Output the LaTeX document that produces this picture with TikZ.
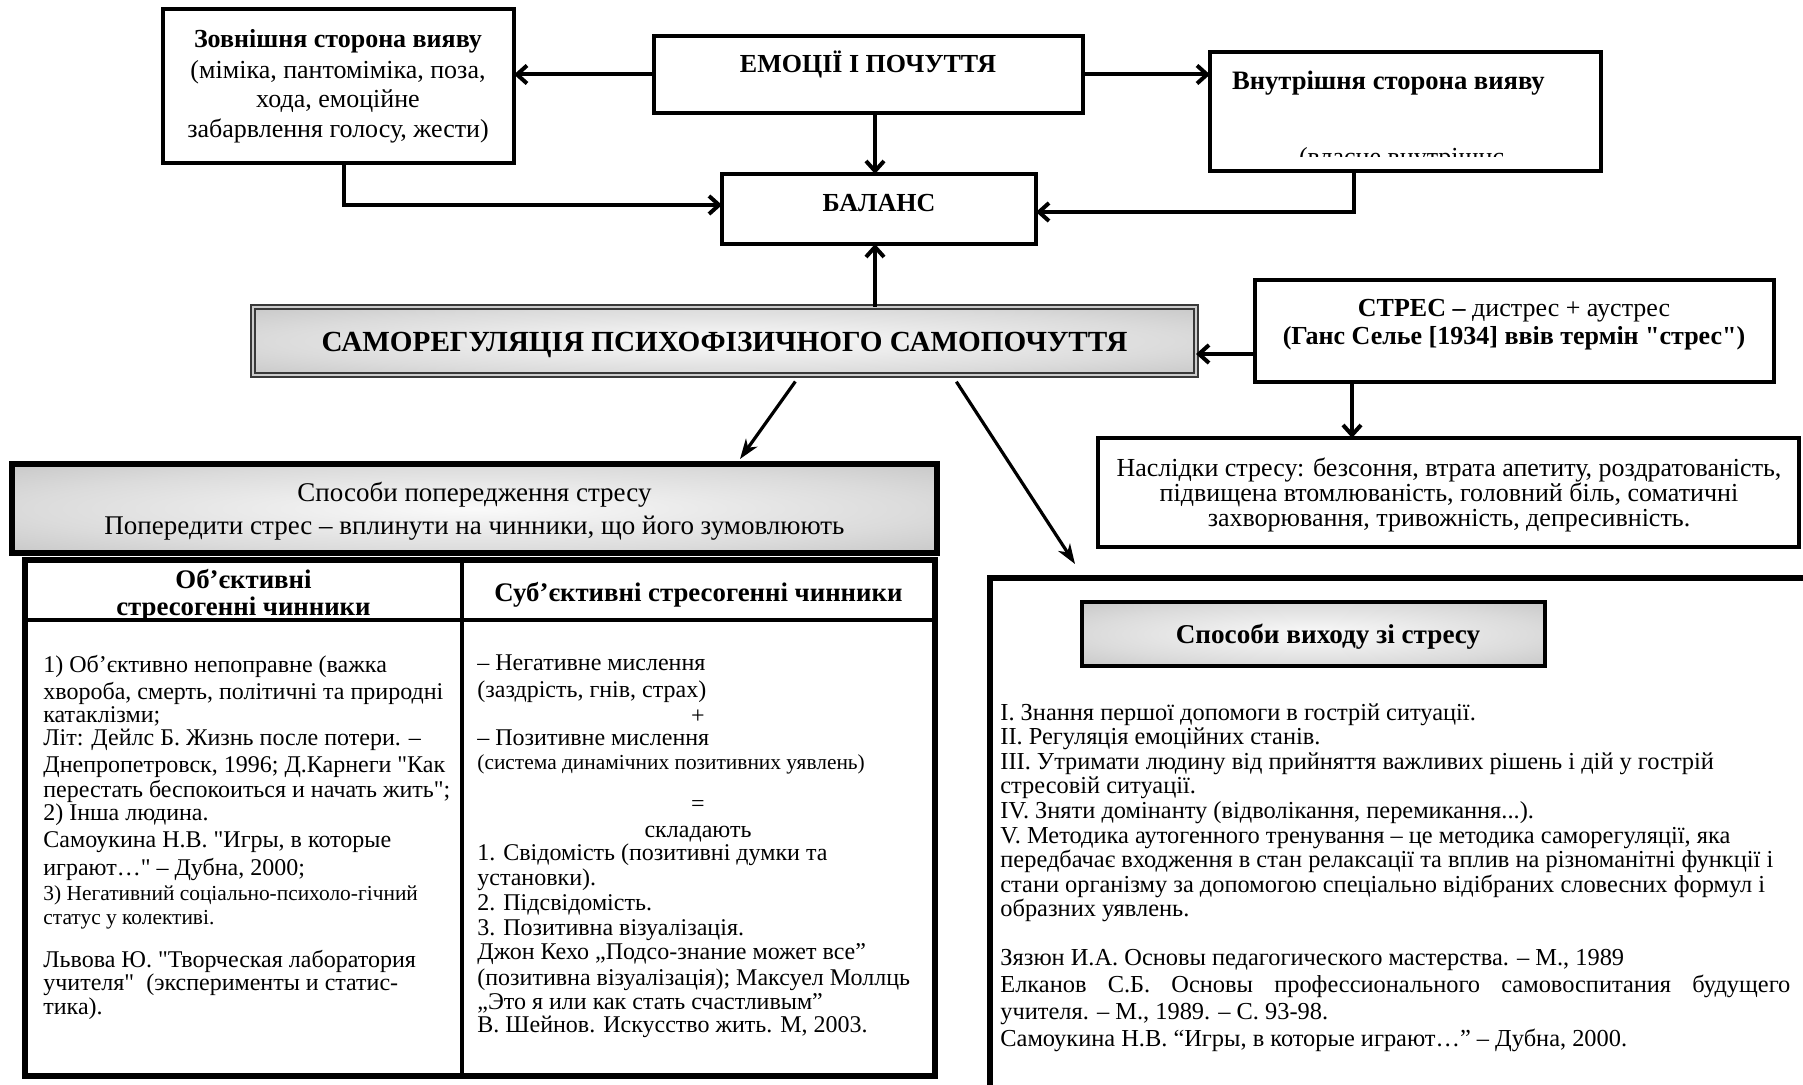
\documentclass[tikz,border=0pt]{standalone}
\usepackage{fontspec}
\setmainfont{Liberation Serif}
\newfontfamily\qf{Liberation Serif}
\newcommand\sq{{\qf\symbol{34}}}
\usetikzlibrary{arrows.meta,fit}
\pgfdeclareradialshading{glow}{\pgfpoint{0bp}{0bp}}{color(0bp)=(gray!4); color(24bp)=(gray!28); color(50bp)=(gray!62)}
\newcommand\fszTop{\fontsize{13pt}{15pt}\selectfont}
\newcommand\fszBig{\fontsize{13.5pt}{15pt}\selectfont}
\newcommand\fszTab{\fontsize{12pt}{13pt}\selectfont}
\newcommand\fszSmall{\fontsize{10.7pt}{12pt}\selectfont}
\newcommand\fszRight{\fontsize{12.2pt}{13pt}\selectfont}
\newcommand\fszHead{\fontsize{13.4pt}{14pt}\selectfont\bfseries}
\begin{document}
\begin{tikzpicture}[x=0.5pt,y=-0.5pt,
  box/.style={draw=black, line width=2.2pt, inner sep=0pt, outer sep=0pt},
  glowbox/.style={box, shading=glow},
  txt/.style={inner sep=0pt, outer sep=0pt, font=\fszTop},
  tbl/.style={inner sep=0pt, font=\fszTab},
  tsm/.style={inner sep=0pt, font=\fszSmall},
  rtx/.style={inner sep=0pt, font=\fszRight},
  conn/.style={line width=2pt, -{Straight Barb[length=5pt,width=9pt]}},
  diag/.style={line width=1.6pt, -{Stealth[length=10pt,width=7pt,inset=3pt]}},
  tline/.style={line width=2.2pt}]
\useasboundingbox (0,0) rectangle (1803,1085);
\fill[white] (0,0) rectangle (1803,1085);
\clip (0,0) rectangle (1803,1085);

% ---------- top boxes ----------
\node[box, fit={(163,9) (514,163)}] (ext) {};
\node[txt,anchor=base] (ext1) at (338,48) {\bfseries Зовнішня сторона вияву};
\node[txt,anchor=base] (ext2) at (338,79) {(міміка, пантоміміка, поза,};
\node[txt,anchor=base] (ext3) at (338,108) {хода, емоційне};
\node[txt,anchor=base] (ext4) at (338,138) {забарвлення голосу, жести)};

\node[box, fit={(654,36) (1083,113)}] (emo) {};
\node[txt,anchor=base] (emoT) at (868,73) {\bfseries ЕМОЦІЇ І ПОЧУТТЯ};

\node[box, fit={(1210,52) (1601,171)}] (int) {};
\node[txt,anchor=base west,font=\fontsize{13.3pt}{15pt}\selectfont\bfseries] (intT) at (1232,90) {Внутрішня сторона вияву};
\begin{scope}
\clip (1215,140) rectangle (1596,157);
\node[txt,anchor=base west] (intC) at (1299,166) {(власне внутрішнє};
\end{scope}

\node[box, fit={(722,174) (1036,244)}] (bal) {};
\node[txt,anchor=base] (balT) at (879,212) {\bfseries БАЛАНС};

% ---------- middle ----------
\node[glowbox, draw=gray!45!black, line width=0.9pt, double=gray!40, double distance=1.3pt, fit={(253,307) (1196,375)}] (sam) {};
\node[txt,anchor=base,font=\fontsize{14.6pt}{16pt}\selectfont\bfseries] (samT) at (724.5,351) {САМОРЕГУЛЯЦІЯ ПСИХОФІЗИЧНОГО САМОПОЧУТТЯ};

\node[box, fit={(1255,280) (1774,382)}] (stres) {};
\node[txt,anchor=base] (st1) at (1514,317) {\textbf{СТРЕС –} дистрес + аустрес};
\node[txt,anchor=base] (st2) at (1514,345) {\bfseries (Ганс Селье [1934] ввів термін \sq стрес\sq)};

\node[box, fit={(1098,438) (1799,547)}] (nasl) {};
\node[txt,anchor=base] (n1) at (1449,476) {Наслідки стресу: безсоння, втрата апетиту, роздратованість,};
\node[txt,anchor=base] (n2) at (1449,501) {підвищена втомлюваність, головний біль, соматичні};
\node[txt,anchor=base] (n3) at (1449,526) {захворювання, тривожність, депресивність.};

% ---------- connectors ----------
\coordinate (vx) at (875,0);
\coordinate (lx) at (344,205);
\coordinate (rx) at (1354,212);
\coordinate (sy) at (0,354);
\coordinate (sx) at (1352,0);
\coordinate (d1s) at (800,0);
\coordinate (d1e) at (740,459);
\coordinate (d2s) at (952,0);
\coordinate (d2e) at (1075,564);
\draw[conn] (emo.west) -- (emo.west -| ext.east);
\draw[conn] (emo.east) -- (emo.east -| int.west);
\draw[conn] (emo.south -| vx) -- (bal.north -| vx);
\draw[conn] (sam.north -| vx) -- (bal.south -| vx);
\draw[conn] (ext.south -| lx) |- (bal.west |- lx);
\draw[conn] (int.south -| rx) |- (bal.east |- rx);
\draw[conn] (stres.west |- sy) -- (sam.east |- sy);
\draw[conn] (stres.south -| sx) -- (nasl.north -| sx);
\draw[diag, shorten <=4pt] (sam.south -| d1s) -- (d1e);
\draw[diag, shorten <=4pt] (sam.south -| d2s) -- (d2e);

% ---------- left: prevention ----------
\node[glowbox, line width=2.6pt, fit={(12,464) (937,553)}] (sp1) {};
\node[txt,anchor=base,font=\fszBig] (sp1a) at (474.5,501) {Способи попередження стресу};
\node[txt,anchor=base,font=\fszBig] (sp1b) at (474.5,534) {Попередити стрес – вплинути на чинники, що його зумовлюють};

\node[box, line width=2.6pt, fit={(25,560) (935,1076)}] (tab) {};
\coordinate (hy) at (0,620);
\coordinate (dx) at (462,0);
\draw[tline] (tab.west |- hy) -- (tab.east |- hy);
\draw[tline] (tab.north -| dx) -- (tab.south -| dx);
\node[tbl,anchor=base,font=\fszHead] (h1a) at (243.5,588) {Об’єктивні};
\node[tbl,anchor=base,font=\fszHead] (h1b) at (243.5,615) {стресогенні чинники};
\node[tbl,anchor=base,font=\fszHead] (h2) at (698.5,601) {Суб’єктивні стресогенні чинники};

\foreach \yy/\mytext [count=\i] in {
 672/{1) Об’єктивно непоправне (важка},
 699/{хвороба, смерть, політичні та природні},
 722/{катаклізми;},
 745/{Літ: Дейлс Б. Жизнь после потери. –},
 772/{Днепропетровск, 1996; Д.Карнеги \sq Как},
 797/{перестать беспокоиться и начать жить\sq;},
 820/{2) Інша людина.},
 847/{Самоукина Н.В. \sq Игры, в которые},
 875/{играют…\sq\ – Дубна, 2000;},
 967/{Львова Ю. \sq Творческая лаборатория},
 990/{учителя\sq\ \ (эксперименты и статис-},
 1014/{тика).}}
 \node[tbl,anchor=base west] (ca\i) at (43,\yy) {\mytext};
\node[tsm,anchor=base west] (cs1) at (43,900) {3) Негативний соціально-психоло-гічний};
\node[tsm,anchor=base west] (cs2) at (43,924) {статус у колективі.};

\foreach \yy/\mytext [count=\i] in {
 670/{– Негативне мислення},
 697/{(заздрість, гнів, страх)},
 745/{– Позитивне мислення},
 860/{1. Свідомість (позитивні думки та},
 885/{установки).},
 910/{2. Підсвідомість.},
 935/{3. Позитивна візуалізація.},
 959/{Джон Кехо „Подсо-знание может все”},
 985/{(позитивна візуалізація); Максуел Моллць},
 1009/{„Это я или как стать счастливым”},
 1032/{В. Шейнов. Искусство жить. М, 2003.}}
 \node[tbl,anchor=base west] (cb\i) at (477,\yy) {\mytext};
\node[tsm,anchor=base west] (cbs) at (477,769) {(система динамічних позитивних уявлень)};
\node[tbl,anchor=base] (plus) at (698,723) {+};
\node[tbl,anchor=base] (eq) at (698,811) {=};
\node[tbl,anchor=base] (skl) at (698,837) {складають};

% ---------- right: exit ----------
\node[box, line width=2.6pt, fit={(990,578) (1850,1130)}] (exit) {};
\node[glowbox, line width=2.4pt, fit={(1082,602) (1545,666)}] (exT) {};
\node[txt,anchor=base,font=\fontsize{13.6pt}{15pt}\selectfont\bfseries] (exTt) at (1328,643) {Способи виходу зі стресу};

\foreach \yy/\mytext [count=\i] in {
 720/{I. Знання першої допомоги в гострій ситуації.},
 744.6/{II. Регуляція емоційних станів.},
 769.2/{III. Утримати людину від прийняття важливих рішень і дій у гострій},
 793.8/{стресовій ситуації.},
 818.4/{IV. Зняти домінанту (відволікання, перемикання...).},
 843/{V. Методика аутогенного тренування – це методика саморегуляції, яка},
 867.6/{передбачає входження в стан релаксації та вплив на різноманітні функції і},
 892.2/{стани організму за допомогою спеціально відібраних словесних формул і},
 916.8/{образних уявлень.},
 965/{Зязюн И.А. Основы педагогического мастерства. – М., 1989},
 1019/{учителя. – М., 1989. – С. 93-98.},
 1046/{Самоукина Н.В. “Игры, в которые играют…” – Дубна, 2000.}}
 \node[rtx,anchor=base west] (r\i) at (1000,\yy) {\mytext};
\node[rtx,anchor=base west] (rj) at (1000,992) {\makebox[395pt][s]{Елканов С.Б. Основы профессионального самовоспитания будущего}};
\end{tikzpicture}
\end{document}
